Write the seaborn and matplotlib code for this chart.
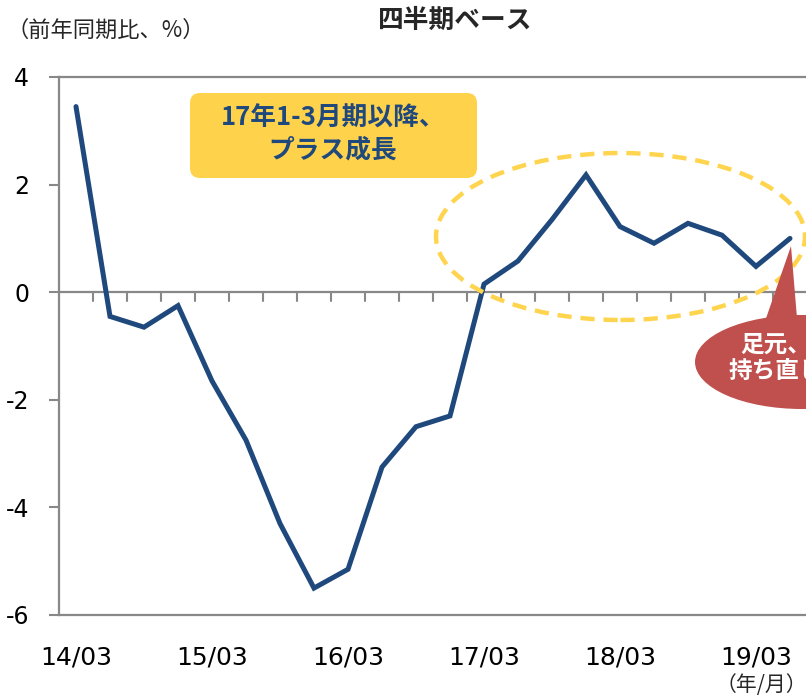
import matplotlib
matplotlib.use("Agg")
import matplotlib.pyplot as plt
from matplotlib.patches import FancyBboxPatch, Ellipse, Polygon
import seaborn as sns
import pandas as pd

quarters = ["14/03", "14/06", "14/09", "14/12", "15/03", "15/06", "15/09", "15/12",
            "16/03", "16/06", "16/09", "16/12", "17/03", "17/06", "17/09", "17/12",
            "18/03", "18/06", "18/09", "18/12", "19/03", "19/06"]
growth = [3.45, -0.45, -0.65, -0.25, -1.65, -2.75, -4.3, -5.5,
          -5.15, -3.25, -2.5, -2.3, 0.15, 0.58, 1.35, 2.18,
          1.22, 0.91, 1.28, 1.06, 0.48, 1.0]
label_quarters = ["14/03", "15/03", "16/03", "17/03", "18/03", "19/03"]
yticks = [4, 2, 0, -2, -4, -6]

title = "四半期ベース"
ylabel = "（前年同期比、%）"
xunit = "（年/月）"
box_text = "17年1-3月期以降、\nプラス成長"
bubble_text = "足元、\n持ち直し"

sns.set_theme(style="white")
plt.rcParams['font.family'] = ['DejaVu Sans', 'Noto Sans CJK JP']
JP = ['Noto Sans CJK JP', 'DejaVu Sans']

W, H = 806, 700
fig = plt.figure(figsize=(W / 100, H / 100), dpi=100)
ax = fig.add_axes([59 / W, 1 - 615 / H, 748 / W, (615 - 77) / H])

df = pd.DataFrame({"idx": range(len(quarters)), "q": quarters, "v": growth})
sns.lineplot(data=df, x="idx", y="v", ax=ax, color="#1F497D", lw=3.6,
             solid_joinstyle="miter", zorder=5)

ax.set_xlim(-0.5, len(quarters) - 0.5)
ax.set_ylim(-6, 4)
ax.set_xlabel("")
ax.set_ylabel("")

grey = "#888888"
for s in ["left", "top", "bottom"]:
    ax.spines[s].set_color(grey)
    ax.spines[s].set_linewidth(1.6)
ax.spines["right"].set_visible(False)

ax.set_yticks(yticks)
ax.set_yticklabels([str(t) for t in yticks], fontsize=17, color="black")
ax.tick_params(axis="y", left=True, length=7.5, width=1.5, color=grey, pad=14)

xt = [quarters.index(q) for q in label_quarters]
ax.set_xticks(xt)
ax.set_xticklabels(label_quarters, fontsize=18, color="black")
ax.tick_params(axis="x", bottom=False, length=0, pad=22)

# zero line with minor ticks between quarters
ax.axhline(0, color=grey, lw=1.6, zorder=2)
for i in range(len(quarters) - 1):
    ax.plot([i + 0.5, i + 0.5], [0, -0.17], color=grey, lw=1.5, zorder=2)

# texts
fig.text(455 / W, 1 - 20 / H, title, ha="center", va="center",
         fontsize=18.5, fontweight="bold", family=JP)
fig.text(6 / W, 1 - 30 / H, ylabel, ha="left", va="center",
         fontsize=16, family=JP)
fig.text(761 / W, 1 - 685 / H, xunit, ha="center", va="center",
         fontsize=15, family=JP)

tr = fig.dpi_scale_trans

def px(x, y):
    return (x / 100, (H - y) / 100)

# yellow rounded box
box = FancyBboxPatch(px(190, 178), 287 / 100, 85 / 100,
                     boxstyle="round,pad=0,rounding_size=0.1",
                     transform=tr, facecolor="#FFD24C", edgecolor="none", zorder=6)
fig.patches.append(box)
fig.text(333 / W, 1 - 134 / H, box_text, ha="center", va="center",
         fontsize=18.5, fontweight="bold", color="#1F497D", family=JP,
         linespacing=1.2, zorder=7)

# dashed ellipse
ell = Ellipse(px(620.5, 236.5), 369 / 100, 167 / 100, transform=tr,
              fill=False, edgecolor="#FFD54F", lw=3.2, linestyle=(0, (3.2, 2)), zorder=6)
fig.patches.append(ell)

# callout bubble
bub = Ellipse(px(802, 362), 214 / 100, 94 / 100, transform=tr,
              facecolor="#C0504D", edgecolor="none", zorder=7)
fig.patches.append(bub)
tail = Polygon([px(791, 246), px(762, 330), px(798, 330)], closed=True,
               transform=tr, facecolor="#C0504D", edgecolor="none", zorder=7)
fig.patches.append(tail)
fig.text(776 / W, 1 - 358 / H, bubble_text, ha="center", va="center",
         fontsize=17, fontweight="bold", color="white", family=JP,
         linespacing=1.15, zorder=8)

fig.savefig("out.png", dpi=100)
